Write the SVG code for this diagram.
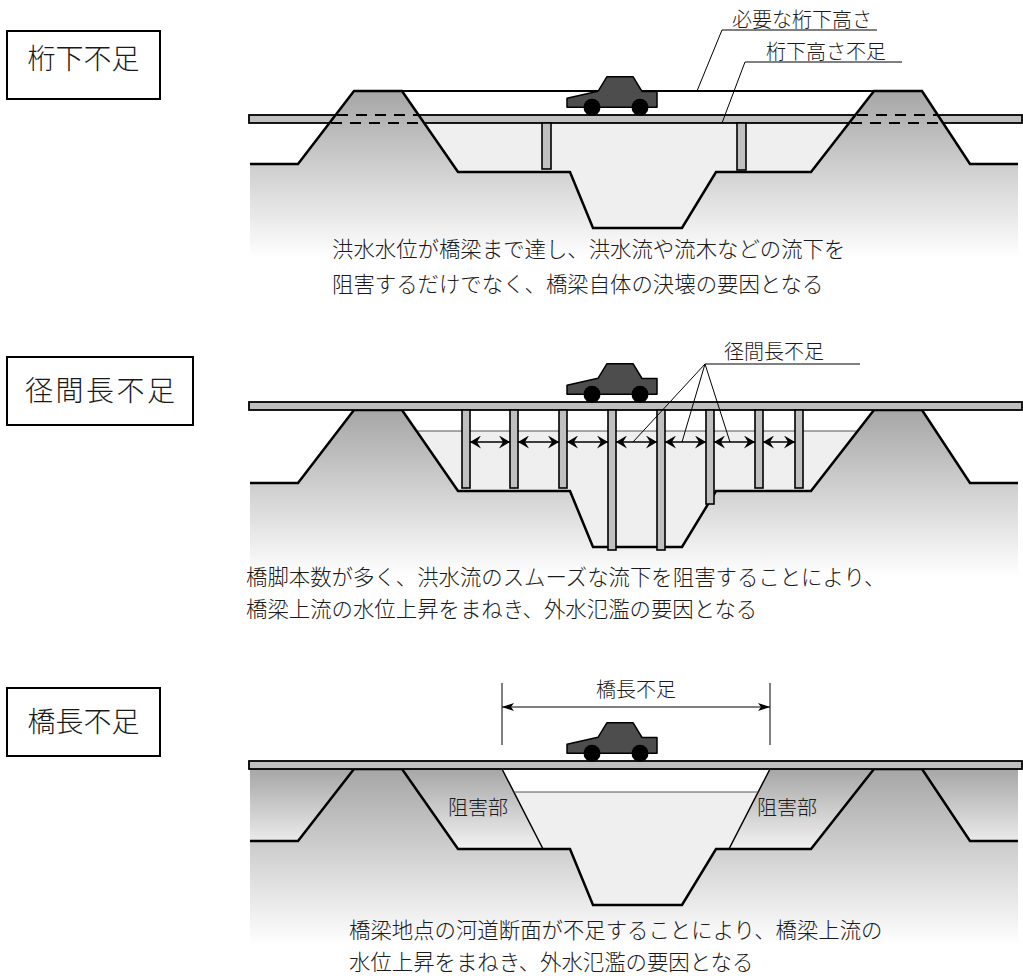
<svg xmlns="http://www.w3.org/2000/svg" width="1023" height="976" viewBox="0 0 1023 976">
<defs>
<style>
.gline{fill:none;stroke:#000;stroke-width:2.5;stroke-linejoin:miter}
.deck{fill:#c0c0c0;stroke:#000;stroke-width:1.8}
.pier{fill:#c0c0c0;stroke:#000;stroke-width:1.6}
.water{fill:#efefef}
.wline{stroke:#555;stroke-width:1;fill:none}
.thin{stroke:#000;stroke-width:1;fill:none}
.jp{font-family:"Noto Sans CJK JP","Noto Sans CJK SC",sans-serif;font-weight:300;fill:#1a1a1a}
.cap{font-size:21.4px}
.lbl{font-size:20px}
.ttl{font-size:28px}
.box{fill:#fff;stroke:#000;stroke-width:2}
.dash{stroke:#000;stroke-width:2.2;stroke-dasharray:11 8;fill:none}
.span{stroke:#000;stroke-width:1.5;fill:none;marker-start:url(#ah);marker-end:url(#ah)}
.dim{stroke:#000;stroke-width:1.2;fill:none;marker-start:url(#ah2);marker-end:url(#ah2)}
</style>
<linearGradient id="g1" gradientUnits="userSpaceOnUse" x1="0" y1="91" x2="0" y2="258">
<stop offset="0" stop-color="#a6a6a6"/><stop offset="1" stop-color="#ffffff"/>
</linearGradient>
<linearGradient id="g2" gradientUnits="userSpaceOnUse" x1="0" y1="410" x2="0" y2="577">
<stop offset="0" stop-color="#a6a6a6"/><stop offset="1" stop-color="#ffffff"/>
</linearGradient>
<linearGradient id="g3" gradientUnits="userSpaceOnUse" x1="0" y1="769" x2="0" y2="945">
<stop offset="0" stop-color="#a6a6a6"/><stop offset="1" stop-color="#ffffff"/>
</linearGradient>
<linearGradient id="g3b" gradientUnits="userSpaceOnUse" x1="0" y1="769" x2="0" y2="849">
<stop offset="0" stop-color="#a6a6a6"/><stop offset="1" stop-color="#f2f2f2"/>
</linearGradient>
<marker id="ah" viewBox="0 0 11 13" markerWidth="11" markerHeight="13" refX="11" refY="6.5" orient="auto-start-reverse" markerUnits="userSpaceOnUse">
<path d="M0,0 L11,6.5 L0,13 L4,6.5 Z" fill="#000"/>
</marker>
<marker id="ah2" viewBox="0 0 12 8" markerWidth="12" markerHeight="8" refX="12" refY="4" orient="auto-start-reverse" markerUnits="userSpaceOnUse">
<path d="M0,0 L12,4 L0,8 L3,4 Z" fill="#000"/>
</marker>
<g id="car">
<polygon points="567,98.3 598,91.3 607,76.7 633,76.7 642,91.5 657,91.5 657,107.3 567,107.3" fill="#4d4d4d" stroke="#000" stroke-width="1.5" stroke-linejoin="round"/>
<circle cx="592" cy="107.3" r="8.5" fill="#000"/>
<circle cx="640" cy="107.3" r="8.5" fill="#000"/>
</g>
</defs>

<rect width="1023" height="976" fill="#fff"/>

<!-- clearance shortage -->
<g id="title-1">
<rect class="box" x="7" y="31" width="153" height="68"/>
<text class="jp ttl" x="83.5" y="69" text-anchor="middle">桁下不足</text>
</g>
<g id="section-1">
<polygon class="water" points="424,123 849,123 811,172 716,172 682,228 593,228 570,172 458,172"/>
<rect class="deck" x="249" y="115" width="773" height="8"/>
<path fill="url(#g1)" d="M250,164 H298 L354,91 H402 L458,172 H570 L593,228 H682 L716,172 H811 L874,91 H922 L970,164 H1018 V258 H250 Z"/>
<path class="gline" d="M250,164 H298 L354,91 H402 L458,172 H570 L593,228 H682 L716,172 H811 L874,91 H922 L970,164 H1018"/>
<path class="dash" d="M337,115 H418 M331,123 H424 M857,115 H938 M851,123 H943"/>
<line x1="402" y1="91" x2="874" y2="91" stroke="#000" stroke-width="1.8"/>
<rect class="pier" x="542" y="123" width="9" height="46"/>
<rect class="pier" x="737" y="123" width="9" height="47"/>
<use href="#car"/>
</g>
<g id="label-required">
<path class="thin" d="M877,30 H722 L697,91"/>
<text class="jp lbl" x="732" y="27">必要な桁下高さ</text>
</g>
<g id="label-shortage">
<path class="thin" d="M902,62 H745 L722,123"/>
<text class="jp lbl" x="766" y="59">桁下高さ不足</text>
</g>
<g id="caption-1">
<text class="jp cap" x="332" y="257">洪水水位が橋梁まで達し、洪水流や流木などの流下を</text>
<text class="jp cap" x="332" y="292">阻害するだけでなく、橋梁自体の決壊の要因となる</text>
</g>

<!-- span shortage -->
<g id="title-2">
<rect class="box" x="7" y="357" width="186" height="68"/>
<text class="jp ttl" x="100" y="401" text-anchor="middle" textLength="150" lengthAdjust="spacing">径間長不足</text>
</g>
<g id="section-2">
<polygon class="water" points="416.5,431 857.7,431 811,491 716,491 682,547 593,547 570,491 458,491"/>
<line class="wline" x1="416.5" y1="431" x2="857.7" y2="431"/>
<path fill="url(#g2)" d="M250,483 H298 L354,410 H402 L458,491 H570 L593,547 H682 L716,491 H811 L874,410 H922 L970,483 H1018 V577 H250 Z"/>
<path class="gline" d="M250,483 H298 L354,410 H402 L458,491 H570 L593,547 H682 L716,491 H811 L874,410 H922 L970,483 H1018"/>
<rect class="deck" x="249" y="402" width="773" height="8"/>
<rect class="pier" x="462" y="410" width="8" height="78"/>
<rect class="pier" x="510" y="410" width="8" height="78"/>
<rect class="pier" x="559" y="410" width="8" height="78"/>
<rect class="pier" x="608" y="410" width="8" height="140"/>
<rect class="pier" x="657" y="410" width="8" height="140"/>
<rect class="pier" x="706" y="410" width="8" height="94"/>
<rect class="pier" x="755" y="410" width="8" height="78"/>
<rect class="pier" x="795" y="410" width="8" height="78"/>
<use href="#car" y="287"/>
</g>
<g id="connectors">
<line class="span" x1="470" y1="442" x2="510" y2="442"/>
<line class="span" x1="518" y1="442" x2="559" y2="442"/>
<line class="span" x1="567" y1="442" x2="608" y2="442"/>
<line class="span" x1="616" y1="442" x2="657" y2="442"/>
<line class="span" x1="665" y1="442" x2="706" y2="442"/>
<line class="span" x1="714" y1="442" x2="755" y2="442"/>
<line class="span" x1="763" y1="442" x2="795" y2="442"/>
<path class="thin" d="M860,364 H705 M705,364 L633,442 M705,364 L682,442 M705,364 L730,442"/>
<line class="dim" x1="502" y1="707" x2="770" y2="707"/>
<path class="thin" d="M502,683 V745 M770,683 V745"/>
</g>
<g id="label-span">
<text class="jp lbl" x="724" y="359">径間長不足</text>
</g>
<g id="caption-2">
<text class="jp cap" x="246" y="585">橋脚本数が多く、洪水流のスムーズな流下を阻害することにより、</text>
<text class="jp cap" x="246" y="617">橋梁上流の水位上昇をまねき、外水氾濫の要因となる</text>
</g>

<!-- bridge length shortage -->
<g id="title-3">
<rect class="box" x="7" y="688" width="153" height="68"/>
<text class="jp ttl" x="83.5" y="732" text-anchor="middle">橋長不足</text>
</g>
<g id="section-3">
<rect x="250" y="769" width="768" height="80" fill="url(#g3b)"/>
<path fill="url(#g3)" d="M250,841 H298 L354,769 H402 L458,849 H570 L593,905 H682 L716,849 H811 L874,769 H922 L970,841 H1018 V945 H250 Z"/>
<polygon fill="#fff" points="502,769 770,769 758.2,792 513.8,792"/>
<polygon class="water" points="513.8,792 758.2,792 729,849 716,849 682,905 593,905 570,849 543,849"/>
<path class="gline" d="M250,841 H298 L354,769 H402 L458,849 H570 L593,905 H682 L716,849 H811 L874,769 H922 L970,841 H1018"/>
<path d="M502,769 L543,849 M770,769 L729,849" stroke="#000" stroke-width="1.5" fill="none"/>
<line class="wline" x1="513.8" y1="792" x2="758.2" y2="792"/>
<rect class="deck" x="249" y="761" width="773" height="8"/>
<use href="#car" y="646"/>
<text class="jp lbl" x="448" y="815">阻害部</text>
<text class="jp lbl" x="757" y="815">阻害部</text>
</g>
<g id="label-length">
<text class="jp lbl" x="636" y="697" text-anchor="middle">橋長不足</text>
</g>
<g id="caption-3">
<text class="jp cap" x="349" y="938">橋梁地点の河道断面が不足することにより、橋梁上流の</text>
<text class="jp cap" x="349" y="970">水位上昇をまねき、外水氾濫の要因となる</text>
</g>
</svg>
